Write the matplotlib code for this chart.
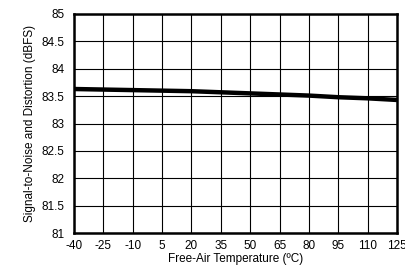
import numpy as np
import matplotlib
matplotlib.use('Agg')
import matplotlib.pyplot as plt

plt.rcParams['font.family'] = ['Liberation Sans', 'DejaVu Sans']

# temperature (C) and SINAD (dBFS)
temp = [-40, -25, -10, 5, 20, 35, 50, 65, 80, 95, 110, 125]
sinad = [83.63, 83.62, 83.61, 83.60, 83.59, 83.57, 83.55, 83.53, 83.51, 83.48, 83.46, 83.43]

xticks = [-40, -25, -10, 5, 20, 35, 50, 65, 80, 95, 110, 125]
yticks = [81, 81.5, 82, 82.5, 83, 83.5, 84, 84.5, 85]

fig = plt.figure(figsize=(4.06, 2.67), dpi=100)
ax = fig.add_axes([74/406, 1 - 233/267, 323/406, 219/267])

ax.plot(temp, sinad, color='k', lw=3.2, solid_capstyle='butt')

ax.set_xlim(-40, 125)
ax.set_ylim(81, 85)
ax.set_xticks(xticks)
ax.set_yticks(yticks)
ax.set_xticklabels([str(t) for t in xticks])
ax.set_yticklabels(['81', '81.5', '82', '82.5', '83', '83.5', '84', '84.5', '85'])
ax.grid(True, color='k', lw=0.8)
ax.tick_params(axis='x', length=0, labelsize=8.5, pad=5)
ax.tick_params(axis='y', length=0, labelsize=8.5, pad=7)
for s in ax.spines.values():
    s.set_linewidth(1.8)

ax.set_xlabel('Free-Air Temperature (ºC)', fontsize=8.5, labelpad=1)
ax.set_ylabel('Signal-to-Noise and Distortion (dBFS)', fontsize=8.5, labelpad=4)

fig.savefig('out.png', dpi=100)
